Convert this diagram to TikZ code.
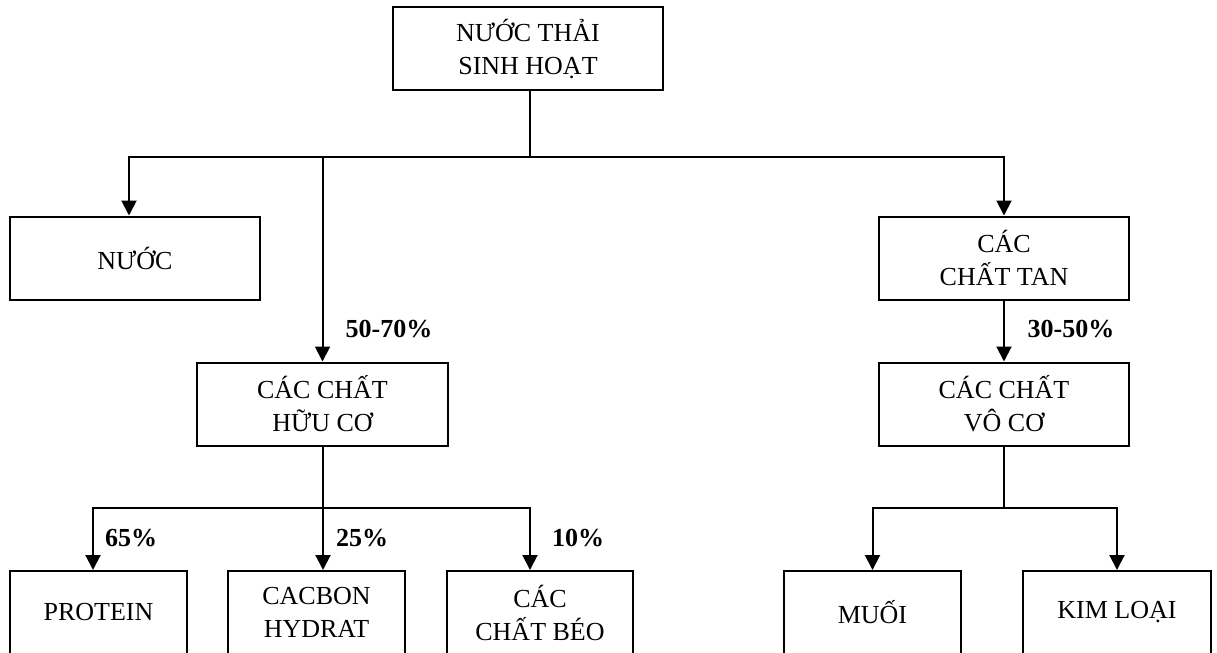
\documentclass[tikz,border=0pt]{standalone}
\usepackage{fontspec}
\setmainfont{Liberation Serif}
\usepackage{tikz}
\usetikzlibrary{positioning,arrows.meta}

\begin{document}
\begin{tikzpicture}[x=0.5pt,y=-0.5pt,line width=1pt,
    box/.style={draw,minimum height=41.5pt,inner sep=0pt,align=center,font=\fontsize{13}{16.5}\selectfont},
    pct/.style={font=\fontsize{13}{16}\selectfont\bfseries,inner sep=0pt},
    arr/.style={-{Triangle[width=7.5pt,length=7.5pt]}}]
      \useasboundingbox (0,0) rectangle (1217,653);
      % boxes
      \node[box,minimum width=135pt](nuocthai) at (528,48.5){NƯỚC THẢI\\SINH HOẠT};
      \node[box,minimum width=125pt](nuoc) at (135,258){NƯỚC};
      \node[box,minimum width=125pt](chattan) at (1004,258){CÁC\\CHẤT TAN};
      \node[box,minimum width=125.5pt](huuco) at (322.5,404){CÁC CHẤT\\HỮU CƠ};
      \node[box,minimum width=125pt](voco) at (1004,404){CÁC CHẤT\\VÔ CƠ};
      \node[box,minimum width=88.5pt](protein) at (98.5,612.5){PROTEIN};
      \node[box,minimum width=88.5pt](cacbon) at (316.5,612.5){CACBON\\HYDRAT};
      \node[box,minimum width=93pt](chatbeo) at (540,612.5){CÁC\\CHẤT BÉO};
      \node[box,minimum width=88.5pt](muoi) at (872.5,612.5){MUỐI};
      \node[box,minimum width=94pt](kimloai) at (1117,612.5){KIM LOẠI};
      % percentages
      \node[pct](p5070) at (389,329){50-70\%};
      \node[pct](p3050) at (1071,329){30-50\%};
      \node[pct](p65) at (131,538){65\%};
      \node[pct](p25) at (362,538){25\%};
      \node[pct](p10) at (578,538){10\%};
      % connectors
      \coordinate (b1) at (530,157);
      \draw (nuocthai.south -| b1) -- (b1);
      \draw[arr] (b1) -| ([xshift=-3pt]nuoc.north);
      \draw[arr] (b1) -| (chattan.north);
      \draw[arr] (huuco.north |- b1) -- (huuco.north);
      \draw[arr] (chattan) -- (voco);
      \coordinate (b2) at (323,508);
      \draw (huuco.south -| b2) -- (b2);
      \draw[arr] (b2) -| ([xshift=-2.75pt]protein.north);
      \draw[arr] (b2) -- (b2 |- cacbon.north);
      \draw[arr] (b2) -| ([xshift=-5pt]chatbeo.north);
      \coordinate (b3) at (1004,508);
      \draw (voco) -- (b3);
      \draw[arr] (b3) -| (muoi.north);
      \draw[arr] (b3) -| (kimloai.north);
    \end{tikzpicture}
\end{document}
